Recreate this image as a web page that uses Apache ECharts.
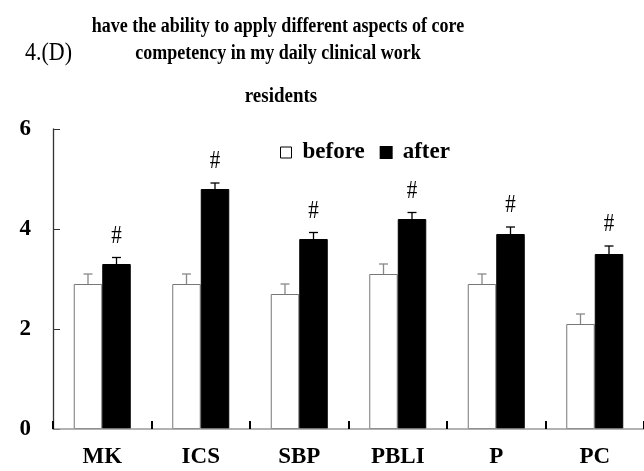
<!DOCTYPE html>
<html>
<head>
<meta charset="utf-8">
<script src="https://cdn.jsdelivr.net/npm/echarts@6/dist/echarts.min.js"></script>
<style>html,body{margin:0;padding:0;background:#fff;}#c{width:644px;height:471px;}</style>
</head>
<body>
<div id="c"></div>
<script>
var categories = ['MK', 'ICS', 'SBP', 'PBLI', 'P', 'PC'];
var beforeValues = [2.9, 2.9, 2.7, 3.1, 2.9, 2.1];
var beforeErrors = [0.2, 0.2, 0.2, 0.2, 0.2, 0.2];
var afterValues = [3.3, 4.8, 3.8, 4.2, 3.9, 3.5];
var afterErrors = [0.13, 0.12, 0.13, 0.13, 0.14, 0.16];
var signifMarks = ['#', '#', '#', '#', '#', '#'];

var SERIF = '"Liberation Serif", "DejaVu Serif", serif';
var BAR_W = 28.5;

function errorRender(values, errors, side, color, marks) {
  return function (params, api) {
    var i = api.value(0);
    var base = api.coord([i, values[i]]);
    var top = api.coord([i, values[i] + errors[i]]);
    var x = base[0] + side * BAR_W / 2;
    var cap = 4.5;
    var children = [
      { type: 'line', shape: { x1: x, y1: base[1], x2: x, y2: top[1] }, style: { stroke: color, lineWidth: 1.3 } },
      { type: 'line', shape: { x1: x - cap, y1: top[1], x2: x + cap, y2: top[1] }, style: { stroke: color, lineWidth: 1.3 } }
    ];
    if (marks) {
      children.push({ type: 'text', x: x, y: top[1] - 21, scaleY: 1.15,
        style: { text: marks[i], x: 0, y: 0, textAlign: 'center', textVerticalAlign: 'middle', font: '21px ' + SERIF, fill: '#000' } });
    }
    return { type: 'group', children: children };
  };
}

function label(text, x, y, align, font, sy) {
  return { type: 'text', x: x, y: y, scaleY: sy,
    style: { text: text, x: 0, y: 0, textAlign: align, textVerticalAlign: 'middle', font: font, fill: '#000' } };
}

var chart = echarts.init(document.getElementById('c'), null, { renderer: 'canvas' });
chart.setOption({
  animation: false,
  backgroundColor: '#fff',
  graphic: [
    label('have the ability to apply different aspects of core', 278, 26, 'center', 'bold 18px ' + SERIF, 1.2),
    label('competency in my daily clinical work', 278, 53, 'center', 'bold 18px ' + SERIF, 1.2),
    label('4.(D)', 25, 53, 'left', '22px ' + SERIF, 1.15),
    label('residents', 281, 96, 'center', 'bold 19px ' + SERIF, 1.15)
  ],
  legend: {
    left: 275, top: 136,
    itemWidth: 11, itemHeight: 11, itemGap: 15,
    icon: 'rect',
    textStyle: { fontFamily: SERIF, fontWeight: 'bold', fontSize: 23, color: '#000', padding: [0, 0, 0, 6] },
    data: [
      { name: 'before', itemStyle: { color: '#fff', borderColor: '#000', borderWidth: 1 } },
      { name: 'after', itemStyle: { color: '#000' } }
    ]
  },
  grid: { left: 53, top: 129, width: 594, height: 300 },
  xAxis: {
    type: 'category',
    data: categories,
    axisLine: { lineStyle: { color: '#999', width: 1.5 } },
    axisTick: { show: true, inside: true, length: 8, lineStyle: { color: '#000', width: 2 } },
    axisLabel: { fontFamily: SERIF, fontWeight: 'bold', fontSize: 23, color: '#000', margin: 17 },
    z: 10
  },
  yAxis: {
    type: 'value', min: 0, max: 6, interval: 2,
    splitLine: { show: false },
    axisLine: { show: true, lineStyle: { color: '#333', width: 1.3 } },
    axisTick: { show: true, inside: true, length: 7, lineStyle: { color: '#333' } },
    axisLabel: { fontFamily: SERIF, fontWeight: 'bold', fontSize: 23, color: '#000', margin: 22 }
  },
  series: [
    { name: 'before', type: 'bar', data: beforeValues, barWidth: BAR_W, barGap: '0%',
      itemStyle: { color: '#fff', borderColor: '#777', borderWidth: 1 } },
    { name: 'after', type: 'bar', data: afterValues, barWidth: BAR_W, barGap: '0%',
      itemStyle: { color: '#000', borderColor: '#000', borderWidth: 1 } },
    { type: 'custom', name: 'beforeErr', data: categories.map(function (c, i) { return [i]; }),
      renderItem: errorRender(beforeValues, beforeErrors, -1, '#888', null), z: 5 },
    { type: 'custom', name: 'afterErr', data: categories.map(function (c, i) { return [i]; }),
      renderItem: errorRender(afterValues, afterErrors, 1, '#000', signifMarks), z: 5 }
  ]
});
</script>
</body>
</html>
